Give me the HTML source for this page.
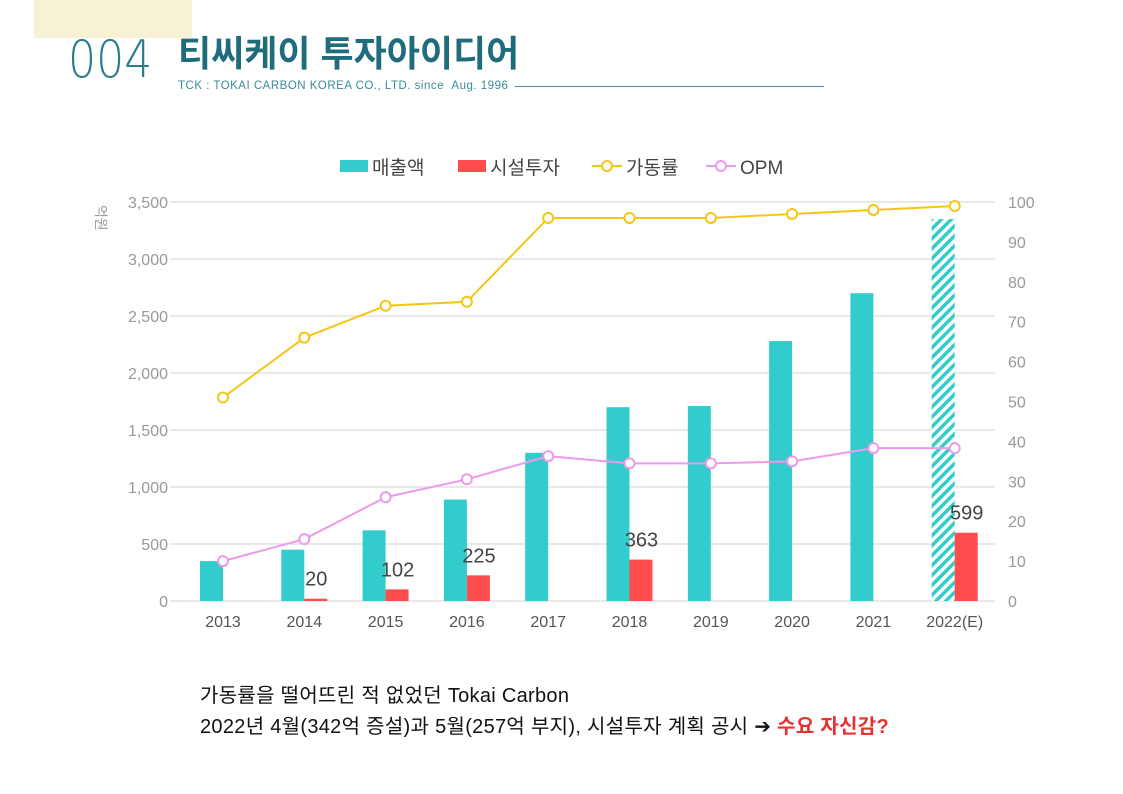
<!DOCTYPE html>
<html><head><meta charset="utf-8">
<style>
body{margin:0;width:1123px;height:794px;background:#fff;overflow:hidden;position:relative;font-family:"Liberation Sans","Noto Sans CJK KR",sans-serif}
.abs{position:absolute}
</style></head><body>
<div class="abs" style="left:34px;top:0;width:158px;height:38px;background:#f7f1d6"></div>
<div class="abs" style="left:68px;top:30px;font-size:52px;color:#2a7d8c;font-weight:300;font-family:'DejaVu Sans',sans-serif;transform:scaleX(0.85);transform-origin:left">004</div>
<div class="abs" style="left:178px;top:25px;font-size:36px;font-weight:bold;color:#1f6c7c">티씨케이 투자아이디어</div>
<div class="abs" style="left:178px;top:80px;font-size:11.5px;letter-spacing:0.5px;color:#3a8a98">TCK : TOKAI CARBON KOREA CO., LTD. since &nbsp;Aug. 1996</div>
<div class="abs" style="left:515px;top:86px;width:309px;height:1px;background:#4a8da0"></div>
<svg class="abs" style="left:0;top:0" width="1123" height="794" id="chart"></svg>
<div class="abs" style="left:200px;top:679px;font-size:20px;letter-spacing:0.3px;color:#111">가동률을 떨어뜨린 적 없었던 Tokai Carbon</div>
<div class="abs" style="left:200px;top:710px;font-size:20px;letter-spacing:0.3px;color:#111">2022년 4월(342억 증설)과 5월(257억 부지), 시설투자 계획 공시 ➔ <b style="color:#e8312f">수요 자신감?</b></div>
<script>
const categories=["2013","2014","2015","2016","2017","2018","2019","2020","2021","2022(E)"];
const sales=[350,450,620,890,1300,1700,1710,2280,2700,3350];
const capex=[0,20,102,225,0,363,0,0,0,599];
const util=[51,66,74,75,96,96,96,97,98,99];
const opm=[10,15.5,26,30.5,36.3,34.5,34.5,35,38.3,38.3];
const leftTicks=[0,500,1000,1500,2000,2500,3000,3500];
const rightTicks=[0,10,20,30,40,50,60,70,80,90,100];
const NS="http://www.w3.org/2000/svg";
const svg=document.getElementById('chart');
const y0=601,y1=202,xL=170,xR=995;
const yL=v=>y0-(v/3500)*(y0-y1);
const yR=v=>y0-(v/100)*(y0-y1);
const xC=i=>223+i*81.3;
function mk(t,a){const e=document.createElementNS(NS,t);for(const k in a)e.setAttribute(k,a[k]);svg.appendChild(e);return e;}
const defs=mk('defs',{});
defs.innerHTML='<pattern id="hatch" patternUnits="userSpaceOnUse" width="7" height="7" patternTransform="rotate(45)"><rect width="7" height="7" fill="#fff"/><rect width="3.5" height="7" fill="#33cccc"/></pattern>';
leftTicks.forEach(v=>{
 const g=mk('line',{x1:xL,x2:xR,y1:yL(v),y2:yL(v),stroke:'#dcdcdc','stroke-width':1.3});
 
 const t=mk('text',{x:168,y:yL(v)+6,'text-anchor':'end','font-size':16,fill:'#999'});t.textContent=v.toLocaleString('en-US');
 
});
rightTicks.forEach(v=>{
 const t=mk('text',{x:1008,y:yR(v)+6,'font-size':16,fill:'#999'});t.textContent=v;
 
});
const u=mk('text',{x:96,y:205,'font-size':14,fill:'#999',transform:'rotate(90 96 205)'});u.textContent='억원';

categories.forEach((c,i)=>{
 const t=mk('text',{x:xC(i),y:627,'text-anchor':'middle','font-size':16,fill:'#555'});t.textContent=c;
 
 const last=i===categories.length-1;
 const b=mk('rect',{x:xC(i)-23,y:yL(sales[i]),width:23,height:y0-yL(sales[i]),fill:last?'url(#hatch)':'#33cccc'});
 
 if(capex[i]>0){
  const r=mk('rect',{x:xC(i),y:yL(capex[i]),width:23,height:y0-yL(capex[i]),fill:'#ff4d4d'});
  
  const l=mk('text',{x:xC(i)+12,y:yL(capex[i])-13,'text-anchor':'middle','font-size':20,fill:'#444'});l.textContent=capex[i];
  
 }
});
function series(vals,color,name){
 const p=mk('polyline',{points:vals.map((v,i)=>xC(i)+','+yR(v)).join(' '),fill:'none',stroke:color,'stroke-width':2});
 
 vals.forEach((v,i)=>{const c=mk('circle',{cx:xC(i),cy:yR(v),r:5,fill:'#fff',stroke:color,'stroke-width':2});
 });
}
series(util,'#f5c518','utilization');
series(opm,'#ee99ee','opm');
const lg=[[340,'rect','#33cccc','매출액'],[458,'rect','#ff4d4d','시설투자'],[592,'line','#f5c518','가동률'],[706,'line','#ee99ee','OPM']];
lg.forEach(([x,k,c,txt])=>{
 if(k==='rect'){const r=mk('rect',{x:x,y:160,width:28,height:12,fill:c});}
 else{const l=mk('line',{x1:x,x2:x+30,y1:166,y2:166,stroke:c,'stroke-width':2});
  const ci=mk('circle',{cx:x+15,cy:166,r:5,fill:'#fff',stroke:c,'stroke-width':2});}
 const t=mk('text',{x:x+(k==='rect'?32:34),y:174,'font-size':19,fill:'#444'});t.textContent=txt;
 
});
</script>
</body></html>
